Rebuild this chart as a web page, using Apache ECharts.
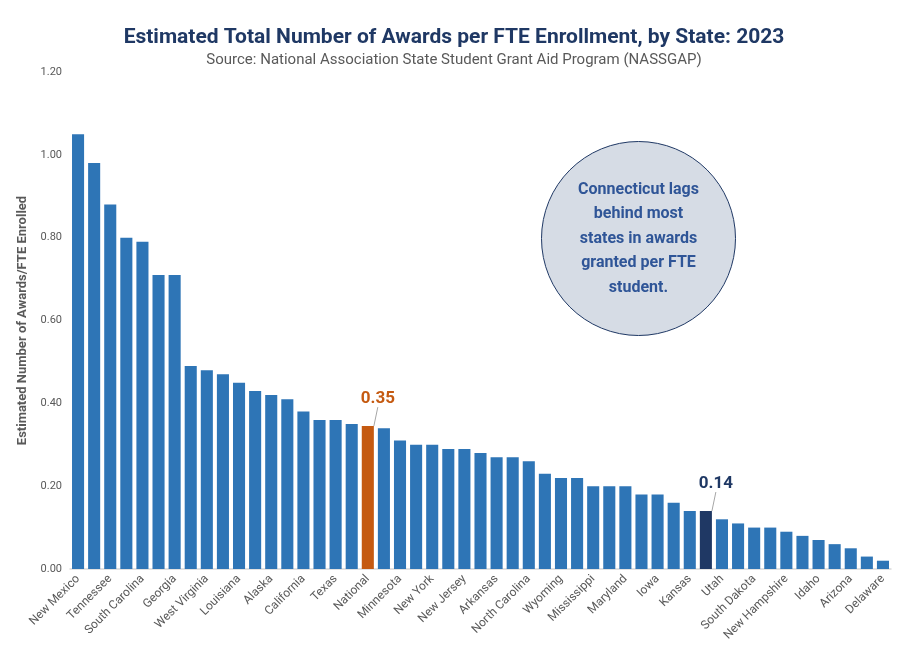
<!DOCTYPE html>
<html lang="en">
  <head>
    <meta charset="UTF-8" />
    <script src="https://cdn.jsdelivr.net/npm/echarts@6/dist/echarts.min.js"></script>
    <style>
      html, body { margin: 0; padding: 0; background: #fff; }
      #main { width: 908px; height: 659px; }
    </style>
    <title>Awards per FTE</title>
  </head>
  <body>
    <div id="main"></div>
    <script>
      const states = [
        "New Mexico", "Kentucky", "Tennessee", "Florida", "South Carolina", "Oklahoma",
        "Georgia", "Vermont", "West Virginia", "Washington", "Louisiana", "Illinois",
        "Alaska", "Indiana", "California", "Pennsylvania", "Texas", "Wisconsin",
        "National", "Ohio", "Minnesota", "Oregon", "New York", "Massachusetts",
        "New Jersey", "Virginia", "Arkansas", "Colorado", "North Carolina", "Maine",
        "Wyoming", "Missouri", "Mississippi", "Alabama", "Maryland", "Michigan",
        "Iowa", "Rhode Island", "Kansas", "Connecticut", "Utah", "Montana",
        "South Dakota", "Nebraska", "New Hampshire", "Hawaii", "Idaho", "North Dakota",
        "Arizona", "Nevada", "Delaware"
      ];
      const awards = [
        1.05, 0.98, 0.88, 0.80, 0.79, 0.71, 0.71, 0.49, 0.48, 0.47, 0.45, 0.43,
        0.42, 0.41, 0.38, 0.36, 0.36, 0.35, 0.345, 0.34, 0.31, 0.30, 0.30, 0.29,
        0.29, 0.28, 0.27, 0.27, 0.26, 0.23, 0.22, 0.22, 0.20, 0.20, 0.20, 0.18,
        0.18, 0.16, 0.14, 0.14, 0.12, 0.11, 0.10, 0.10, 0.09, 0.08, 0.07, 0.06,
        0.05, 0.03, 0.02
      ];
      const callouts = { National: "0.35", Connecticut: "0.14" };
      const highlight = { National: "#c55a11", Connecticut: "#1f3864" };

      const chart = echarts.init(document.getElementById("main"));

      const barData = awards.map((v, i) => {
        const name = states[i];
        const item = { value: v, itemStyle: { color: highlight[name] || "#2e75b6" } };
        if (callouts[name]) {
          item.label = {
            show: true,
            position: "top",
            formatter: callouts[name],
            color: highlight[name],
            fontSize: 17,
            fontWeight: "bold",
            fontFamily: "Roboto, sans-serif"
          };
          item.labelLine = { show: true, lineStyle: { color: "#a6a6a6", width: 1 } };
        }
        return item;
      });

      chart.setOption({
        animation: false,
        title: [
          {
            text: "Estimated Total Number of Awards per FTE Enrollment, by State: 2023",
            left: "center",
            top: 22,
            textStyle: { color: "#1f3864", fontSize: 21, fontWeight: "bold", fontFamily: "Roboto, sans-serif" }
          },
          {
            text: "Source: National Association State Student Grant Aid Program (NASSGAP)",
            left: "center",
            top: 48,
            textStyle: { color: "#595959", fontSize: 15, fontWeight: "normal", fontFamily: "Roboto, sans-serif" }
          }
        ],
        grid: { left: 70, right: 17, top: 72, bottom: 90 },
        xAxis: {
          type: "category",
          data: states,
          axisTick: { show: false },
          axisLine: { lineStyle: { color: "#d9d9d9", width: 1.5 } },
          axisLabel: {
            interval: 1,
            rotate: 45,
            color: "#595959",
            fontSize: 12,
            fontFamily: "Roboto, sans-serif",
            margin: 8
          }
        },
        yAxis: {
          type: "value",
          min: 0,
          max: 1.2,
          interval: 0.2,
          name: "Estimated Number of Awards/FTE Enrolled",
          nameLocation: "middle",
          nameGap: 33,
          nameTextStyle: { color: "#595959", fontSize: 13, fontWeight: "bold", fontFamily: "Roboto, sans-serif" },
          splitLine: { show: false },
          axisLine: { show: false },
          axisTick: { show: false },
          axisLabel: {
            color: "#595959",
            fontSize: 11,
            fontFamily: "Roboto, sans-serif",
            formatter: v => v.toFixed(2)
          }
        },
        series: [
          {
            type: "bar",
            data: barData,
            barCategoryGap: "25%",
            labelLayout: { dx: 10, dy: -14 }
          }
        ],
        graphic: [
          {
            type: "group",
            left: 541,
            top: 141,
            children: [
              {
                type: "circle",
                shape: { cx: 97, cy: 97, r: 97 },
                style: { fill: "#d6dce5", stroke: "#1f3864", lineWidth: 1 }
              },
              {
                type: "text",
                x: 97,
                y: 97,
                style: {
                  text: "Connecticut lags\nbehind most\nstates in awards\ngranted per FTE\nstudent.",
                  fill: "#2f5597",
                  font: "bold 16px Roboto, sans-serif",
                  lineHeight: 24.5,
                  align: "center",
                  verticalAlign: "middle"
                }
              }
            ]
          }
        ]
      });
    </script>
  </body>
</html>
